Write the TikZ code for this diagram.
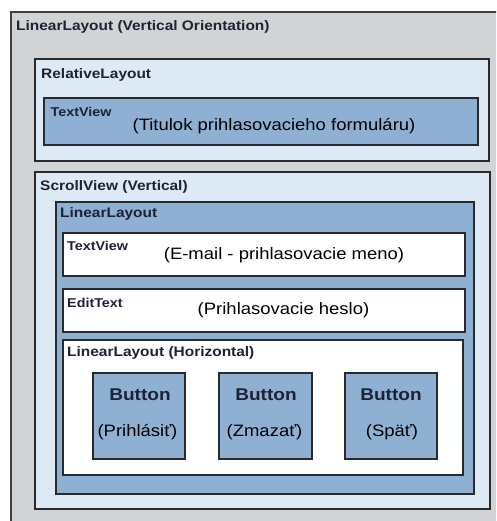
\documentclass[tikz,border=0pt]{standalone}
\usepackage{fontspec}
\newfontfamily\arialfont[FakeStretch=1.12]{Liberation Sans}
\definecolor{outergray}{HTML}{D2D3D5}
\definecolor{lightblue}{HTML}{DDE9F5}
\definecolor{midblue}{HTML}{8EB1D3}
\definecolor{edgecol}{HTML}{2A2A2E}
\definecolor{labcol}{HTML}{1E2235}
\tikzset{
  box/.style={draw=edgecol, line width=1.6pt, rectangle, inner sep=0pt, anchor=north west},
  layoutlab/.style={anchor=base west, inner sep=0pt, text=labcol, font=\arialfont\bfseries\fontsize{13.8}{15}\selectfont},
  widgetlab/.style={anchor=base west, inner sep=0pt, text=labcol, font=\arialfont\bfseries\fontsize{12.8}{14}\selectfont},
  maintext/.style={anchor=base, inner sep=0pt, text=black, font=\arialfont\fontsize{16.5}{18}\selectfont},
  btnlab/.style={anchor=base, inner sep=0pt, text=labcol, font=\arialfont\bfseries\fontsize{17}{19}\selectfont},
}
\begin{document}
\begin{tikzpicture}[x=1pt,y=-1pt]
\useasboundingbox (0,0) rectangle (496,521);
\clip (0,0) rectangle (496,521);
\fill[white] (0,0) rectangle (496,521);
% outer LinearLayout
\node[box, fill=outergray, draw=edgecol!90, minimum width=500pt, minimum height=530pt] (outer) at (10,11) {};
\node[layoutlab] (outerlab) at (16,31) {LinearLayout (Vertical Orientation)};
% RelativeLayout
\node[box, fill=lightblue, minimum width=454pt, minimum height=102pt] (rel) at (34,58) {};
\node[layoutlab] (rellab) at (41,79) {RelativeLayout};
\node[box, fill=midblue, minimum width=434pt, minimum height=47pt] (title) at (43,97) {};
\node[widgetlab] (titlelab) at (50.5,117) {TextView};
\node[maintext] (titletext) at (274,131) {(Titulok prihlasovacieho formuláru)};
% ScrollView
\node[box, fill=lightblue, minimum width=455pt, minimum height=337pt] (scroll) at (34,171) {};
\node[layoutlab] (scrolllab) at (40,190) {ScrollView (Vertical)};
% inner LinearLayout
\node[box, fill=midblue, minimum width=418pt, minimum height=292pt] (inner) at (55,201) {};
\node[layoutlab] (innerlab) at (60,217) {LinearLayout};
% TextView e-mail
\node[box, fill=white, minimum width=402pt, minimum height=43pt] (email) at (62,232) {};
\node[widgetlab] (emaillab) at (67,250) {TextView};
\node[maintext] (emailtext) at (284,259) {(E-mail - prihlasovacie meno)};
% EditText
\node[box, fill=white, minimum width=402pt, minimum height=43pt] (pass) at (62,288) {};
\node[widgetlab] (passlab) at (67,307) {EditText};
\node[maintext] (passtext) at (283.5,314) {(Prihlasovacie heslo)};
% horizontal LinearLayout
\node[box, fill=white, minimum width=400pt, minimum height=135pt] (horiz) at (62,339) {};
\node[layoutlab] (horizlab) at (67,356) {LinearLayout (Horizontal)};
% Buttons
\node[box, fill=midblue, minimum width=92pt, minimum height=86pt] (b1) at (92,372) {};
\node[box, fill=midblue, minimum width=93pt, minimum height=86pt] (b2) at (218,372) {};
\node[box, fill=midblue, minimum width=92pt, minimum height=86pt] (b3) at (344,372) {};
\node[btnlab] (b1t) at (140,400) {Button};
\node[maintext] (b1s) at (137.5,436) {(Prihlásiť)};
\node[btnlab] (b2t) at (266,400) {Button};
\node[maintext] (b2s) at (264.5,436) {(Zmazať)};
\node[btnlab] (b3t) at (391,400) {Button};
\node[maintext] (b3s) at (392,436) {(Späť)};
\end{tikzpicture}
\end{document}
